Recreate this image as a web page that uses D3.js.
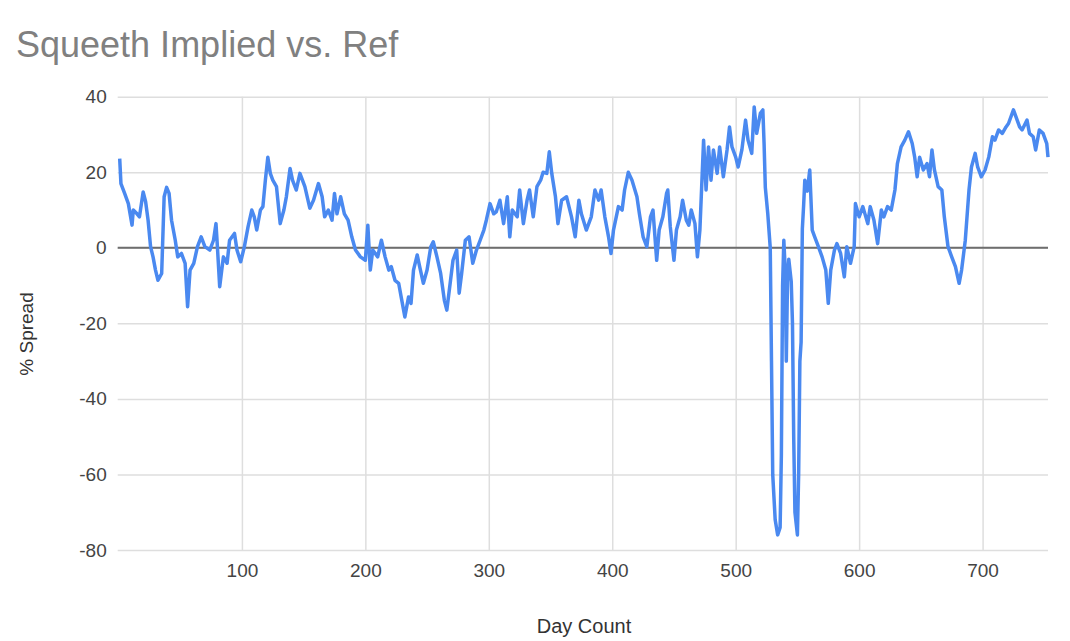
<!DOCTYPE html>
<html>
<head>
<meta charset="utf-8">
<script src="https://cdn.jsdelivr.net/npm/d3@7"></script>
<style>
  html, body { margin: 0; padding: 0; background: #fff; }
  svg { display: block; font-family: "Liberation Sans", Arial, sans-serif; }
</style>
</head>
<body>
<svg id="chart" width="1070" height="641"></svg>
<script>
// ---- data ----
const chartTitle = "Squeeth Implied vs. Ref";
const xTitle = "Day Count";
const yTitle = "% Spread";
const xTicks = [100, 200, 300, 400, 500, 600, 700];
const yTicks = [-80, -60, -40, -20, 0, 20, 40];

const dayCount = [
  1,2,5,8,11,12,15,17,20,22,24,26,28,30,32,35,37,39,41,43,46,48,51,54,56,58,61,64,67,70,74,77,79,80,82,85,88,90,94,96,99,
  102,105,108,110,112,115,117,119,121,123,125,128,131,134,136,139,141,144,147,151,155,158,162,165,167,170,173,175,177,180,183,186,189,192,196,
  200,202,204,206,210,213,216,219,221,224,227,229,232,235,237,239,242,244,247,250,253,255,258,261,264,266,269,271,274,276,278,281,284,287,290,293,296,298,
  301,304,306,309,312,315,317,319,323,325,328,331,333,336,339,342,344,347,349,351,354,356,359,363,367,370,373,375,379,383,386,389,391,394,397,399,
  401,405,408,410,413,416,420,422,425,428,431,433,436,438,441,444,445,447,450,452,455,457,460,462,464,467,469,471,474,476,478,480,482,485,487,490,493,495,497,
  500,502,505,508,510,513,515,517,520,522,523,524,526,528,529,530,532,534,536,537,538,539,540,541,542,543,544,545,546,547,548,550,551,552,553,554,555,556,558,560,562,564,567,570,573,575,577,580,582,585,588,590,593,596,597,
  600,603,607,609,612,615,618,620,623,626,629,631,634,637,640,643,645,647,649,652,655,657,659,661,664,667,669,672,675,678,681,683,686,689,691,694,696,699,
  702,705,708,710,713,716,719,721,725,727,730,732,736,738,741,743,746,749,752,753
];
const spread = [
  23.6,17,14.4,11.7,6,10,9,8.2,14.8,12.2,7.3,0.3,-2.4,-5.9,-8.6,-6.8,13.5,16,14.4,7.3,2,-2.4,-1.5,-4.1,-15.6,-5.9,-4.1,0.3,2.9,0.3,-0.6,2,6.4,1.1,-10.3,-2.4,-4.1,2,3.8,-0.6,-3.7,
  0.3,5.6,10,8.2,4.7,10,10.9,17.9,24,19.7,17.9,16.2,6.4,10,13.5,21,17.9,15.3,19.7,16.2,10.5,12.6,17,13.5,8.2,10,7.3,14.4,9,13.5,9,7.3,2.9,-0.6,-2.4,
  -3.3,6,-5.9,-0.6,-2.4,2,-2.4,-5.9,-5,-8.6,-9.4,-13,-18.3,-13,-14.7,-5.9,-1.9,-5,-9.4,-5.9,0.3,1.6,-2.4,-6.8,-13.9,-16.5,-8.6,-3.3,-0.6,-12,-6.8,2,2.9,-4.1,-0.6,2,4.7,7.3,
  11.7,9,9.5,12.6,6.4,13.5,2.9,10,8.2,15.3,6.4,12.6,15.3,8.2,16.2,17.9,20,19.7,25.4,19.7,13.5,6.4,12.6,13.5,8.2,2.9,12.6,9,4.7,8.2,15.3,12.6,15.3,8.2,2.9,-1.5,
  4.7,10.9,10,15.3,20,17.9,13.5,9,2.9,0.3,8.2,10,-3.3,4.7,8.2,14.4,15.3,5.6,-3.3,4.7,8.2,12.6,7.3,6,10,6.4,-2.4,4.7,28.5,15.3,26.7,17.9,25.9,19.7,26.7,18.8,25.9,32,26.7,
  24,21.4,25.9,33.8,28.5,25,37.3,30.3,35.6,36.5,27.6,16,9,0,-30,-60,-72,-76,-74,-55,-10,2,-5,-30,-8,-3,-6,-9,-20,-50,-70,-76,-60,-30,-25,5,11,17.9,15,20.6,4.7,2.9,0.3,-2.4,-5.9,-14.7,-5.9,-0.6,1.1,-1.5,-7.7,0.3,-4.1,0.3,11.7,
  8.2,10.9,6.4,10.9,7.3,1.1,10,8.2,10.9,10,15.3,22.3,26.7,28.5,30.7,27.6,24,18.8,24,20.6,22.3,18.8,25.9,20.6,16.2,15.3,8.2,0.3,-2.4,-5,-9.4,-5.9,2,15.3,21.4,25,21.4,18.8,
  20.6,24,29.4,28.5,31.2,30.3,32,32.9,36.5,34.7,32,31.2,33.8,30.3,29.4,25.9,31.2,30.3,27.6,24
];

(function () {
  const svg = d3.select("#chart");
  const plotL = 119.7, plotR = 1048, plotT = 96.7, plotB = 550;

  const x = d3.scaleLinear().domain([1, 753]).range([plotL, plotR]);
  const y = d3.scaleLinear().domain([-80, 40]).range([plotB, plotT]);
  const fmt = d => String(d);

  // title
  svg.append("text")
    .attr("x", 16).attr("y", 57)
    .attr("font-size", 36)
    .attr("fill", "#808080")
    .text(chartTitle);

  // horizontal gridlines + y labels
  const yAxis = d3.axisLeft(y).tickValues(yTicks).tickSize(-(plotR - plotL + 2)).tickPadding(11).tickFormat(fmt);
  const gy = svg.append("g").attr("transform", `translate(${plotL - 2},0)`).call(yAxis);
  gy.select(".domain").remove();
  gy.selectAll(".tick line").attr("stroke", "#dedede").attr("stroke-width", 1.5);
  gy.selectAll(".tick text").attr("font-size", 19).attr("fill", "#444")
    .attr("font-family", "'Liberation Sans', Arial, sans-serif");

  // vertical gridlines + x labels
  const xAxis = d3.axisBottom(x).tickValues(xTicks).tickSize(-(plotB - plotT)).tickPadding(14).tickFormat(fmt);
  const gx = svg.append("g").attr("transform", `translate(0,${plotB})`).call(xAxis);
  gx.select(".domain").remove();
  gx.selectAll(".tick line").attr("stroke", "#dedede").attr("stroke-width", 1.5);
  gx.selectAll(".tick text").attr("font-size", 19).attr("fill", "#444")
    .attr("font-family", "'Liberation Sans', Arial, sans-serif");

  // zero baseline
  svg.append("line")
    .attr("x1", plotL - 2).attr("x2", plotR)
    .attr("y1", y(0)).attr("y2", y(0))
    .attr("stroke", "#6e6e6e").attr("stroke-width", 2);

  // series line
  const pts = dayCount.map((d, i) => [d, spread[i]]);
  svg.append("path")
    .datum(pts)
    .attr("fill", "none")
    .attr("stroke", "#4a89f0")
    .attr("stroke-width", 3.5)
    .attr("stroke-linejoin", "round")
    .attr("d", d3.line().x(d => x(d[0])).y(d => y(d[1])));

  // axis titles
  svg.append("text")
    .attr("x", 584).attr("y", 633)
    .attr("text-anchor", "middle")
    .attr("font-size", 20).attr("fill", "#333")
    .text(xTitle);

  svg.append("text")
    .attr("transform", "translate(33,334) rotate(-90)")
    .attr("text-anchor", "middle")
    .attr("font-size", 19).attr("fill", "#333")
    .text(yTitle);
})();
</script>
</body>
</html>
